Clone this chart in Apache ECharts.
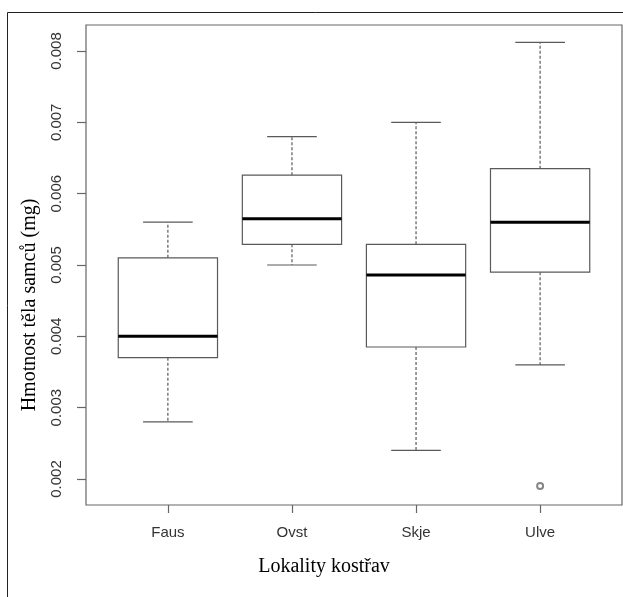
<!DOCTYPE html>
<html>
<head>
<meta charset="utf-8">
<script src="https://cdn.jsdelivr.net/npm/echarts@6/dist/echarts.min.js"></script>
<style>
html,body{margin:0;padding:0;background:#fff;}
#chart{width:623px;height:597px;}
</style>
</head>
<body>
<div id="chart"></div>
<script>
// Data
const categories = ['Faus', 'Ovst', 'Skje', 'Ulve'];
const lowerWhisker = [0.0028, 0.0050, 0.0024, 0.0036];
const q1 = [0.0037, 0.00529, 0.00385, 0.0049];
const median = [0.0040, 0.00565, 0.00486, 0.0056];
const q3 = [0.0051, 0.00626, 0.00529, 0.00635];
const upperWhisker = [0.0056, 0.0068, 0.0070, 0.00812];
const outliers = [[4, 0.0019]];
const yTicks = [0.002, 0.003, 0.004, 0.005, 0.006, 0.007, 0.008];
const xTicks = [1, 2, 3, 4];

const boxData = categories.map((c, i) => [i + 1, lowerWhisker[i], q1[i], median[i], q3[i], upperWhisker[i]]);

const chart = echarts.init(document.getElementById('chart'), null, {renderer: 'canvas'});

function renderBox(params, api) {
  const x = api.value(0);
  const lo = api.value(1), b1 = api.value(2), med = api.value(3), b3 = api.value(4), hi = api.value(5);
  const band = api.size([1, 0])[0];
  const bw = band * 0.8, cw = band * 0.4;
  const pLo = api.coord([x, lo]);
  const p1 = api.coord([x, b1]);
  const pm = api.coord([x, med]);
  const p3 = api.coord([x, b3]);
  const pHi = api.coord([x, hi]);
  const cx = pm[0];
  const grey = '#5a5a5a';
  return {
    type: 'group',
    children: [
      {type: 'line', shape: {x1: cx, y1: p3[1], x2: cx, y2: pHi[1]}, style: {stroke: grey, lineWidth: 1.2, lineDash: [3, 2]}},
      {type: 'line', shape: {x1: cx, y1: p1[1], x2: cx, y2: pLo[1]}, style: {stroke: grey, lineWidth: 1.2, lineDash: [3, 2]}},
      {type: 'line', shape: {x1: cx - cw / 2, y1: pHi[1], x2: cx + cw / 2, y2: pHi[1]}, style: {stroke: grey, lineWidth: 1.2}},
      {type: 'line', shape: {x1: cx - cw / 2, y1: pLo[1], x2: cx + cw / 2, y2: pLo[1]}, style: {stroke: grey, lineWidth: 1.2}},
      {type: 'rect', shape: {x: cx - bw / 2, y: p3[1], width: bw, height: p1[1] - p3[1]}, style: {fill: '#fff', stroke: grey, lineWidth: 1.2}},
      {type: 'line', shape: {x1: cx - bw / 2, y1: pm[1], x2: cx + bw / 2, y2: pm[1]}, style: {stroke: '#000', lineWidth: 3}}
    ]
  };
}

const option = {
  backgroundColor: '#fff',
  animation: false,
  graphic: [
    {type: 'rect', shape: {x: 7.5, y: 12.5, width: 700, height: 700}, style: {fill: 'none', stroke: '#222', lineWidth: 1}, z: 100}
  ],
  grid: {left: 86, top: 25, right: 1, bottom: 92, show: true, borderColor: '#666', borderWidth: 1.2, backgroundColor: 'transparent'},
  xAxis: {
    type: 'value', min: 0.34, max: 4.66,
    axisLine: {show: false},
    splitLine: {show: false},
    axisTick: {show: true, length: 8, customValues: xTicks, lineStyle: {color: '#666', width: 1.2}},
    axisLabel: {customValues: xTicks, margin: 20, color: '#333', fontFamily: 'Liberation Sans', fontSize: 15,
      formatter: v => categories[Math.round(v) - 1]},
    name: 'Lokality kostřav', nameLocation: 'middle', nameGap: 52,
    nameTextStyle: {fontFamily: 'Liberation Serif', fontSize: 20, color: '#000', padding: [0, 60, 0, 0]}
  },
  yAxis: {
    type: 'value', min: 0.001635, max: 0.008365,
    axisLine: {show: false},
    splitLine: {show: false},
    axisTick: {show: true, length: 9, customValues: yTicks, lineStyle: {color: '#666', width: 1.2}},
    axisLabel: {customValues: yTicks, rotate: 90, margin: 22, color: '#333', fontFamily: 'Liberation Sans', fontSize: 15,
      formatter: v => v.toFixed(3)},
    name: 'Hmotnost těla samců (mg)', nameLocation: 'middle', nameGap: 46,
    nameTextStyle: {fontFamily: 'Liberation Serif', fontSize: 20, color: '#000', padding: [0, 80, 0, 0]}
  },
  series: [
    {type: 'custom', renderItem: renderBox, data: boxData, encode: {x: 0, y: [1, 2, 3, 4, 5]}, clip: false},
    {type: 'scatter', data: outliers, symbol: 'emptyCircle', symbolSize: 6,
      itemStyle: {color: '#666', borderColor: '#666', borderWidth: 0.8}}
  ]
};
chart.setOption(option);
</script>
</body>
</html>
